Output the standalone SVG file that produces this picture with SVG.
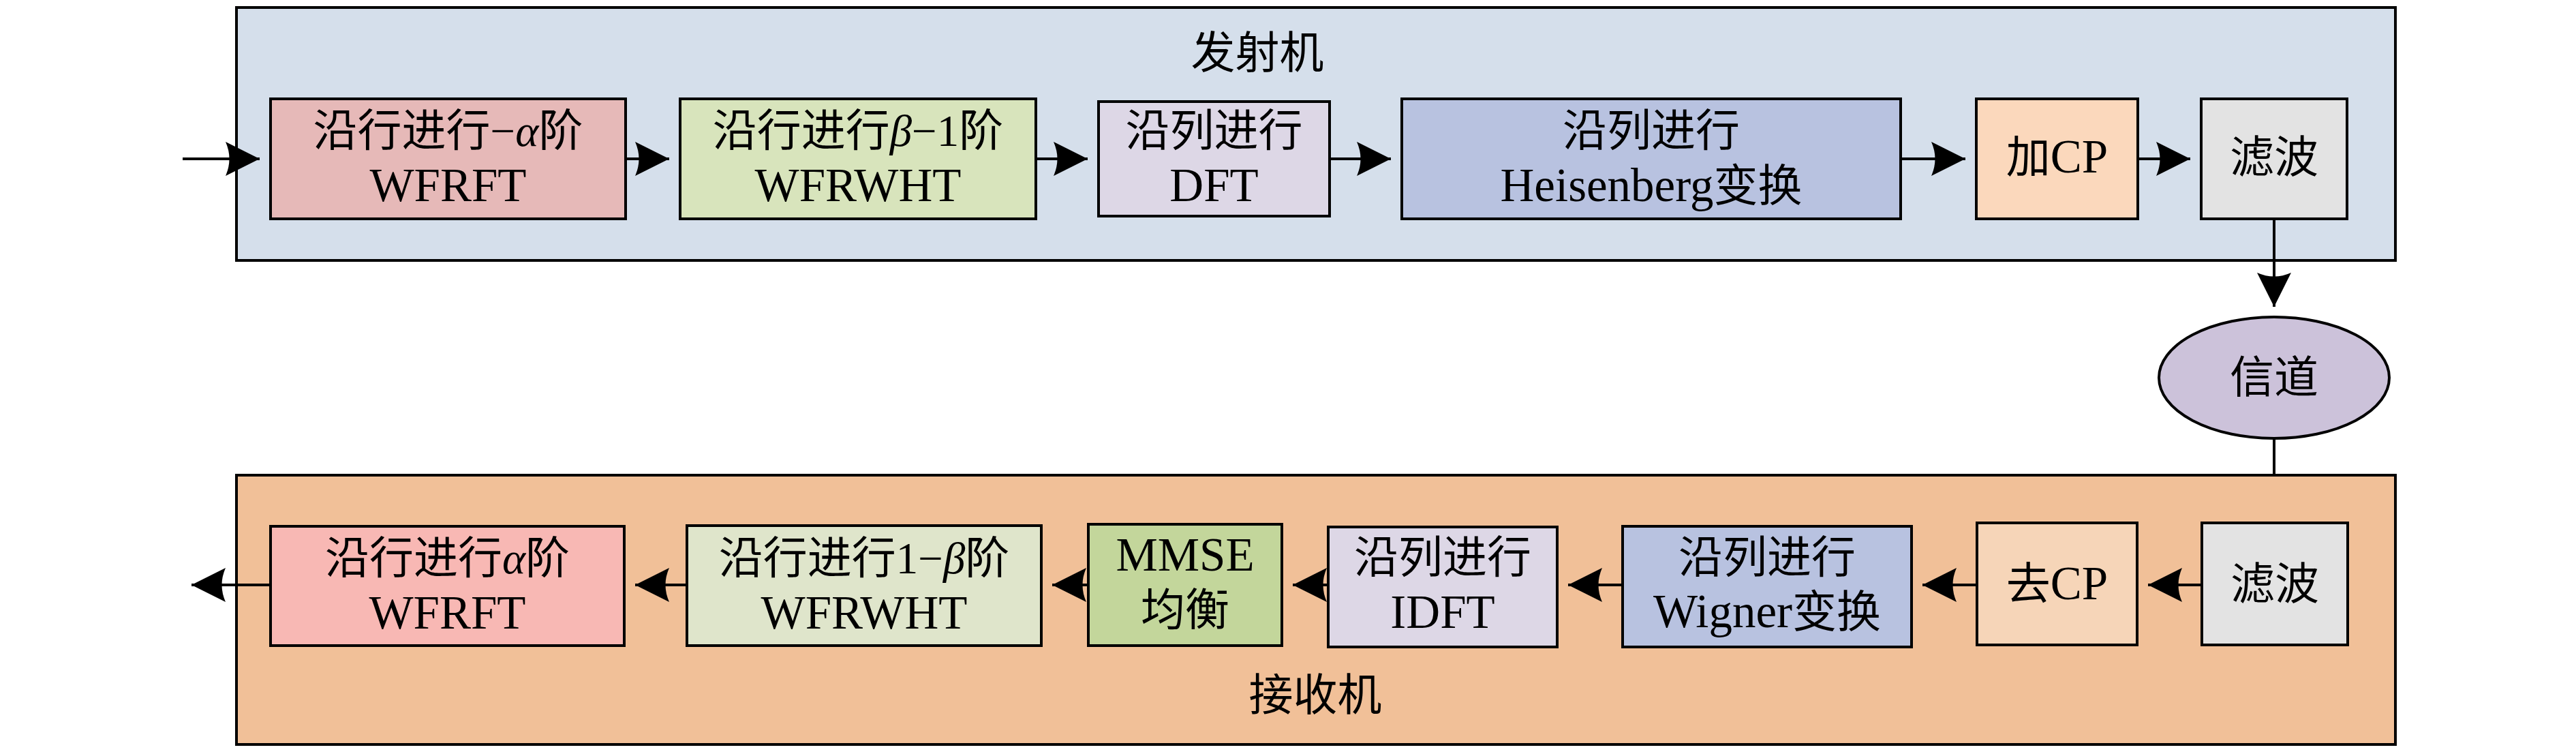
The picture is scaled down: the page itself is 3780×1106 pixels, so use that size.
<svg xmlns="http://www.w3.org/2000/svg" width="3780" height="1106" viewBox="0 0 3780 1106">
<style>
text{font-family:"Liberation Serif","Noto Sans CJK SC",serif;font-size:65px;fill:#000;text-anchor:middle}
.i{font-style:italic}
.l{font-size:69px}
.box{stroke:#000;stroke-width:4}
.cont{stroke:#000;stroke-width:4}
.ln{stroke:#000;stroke-width:4;fill:none}
</style>
<defs>
<marker id="ah" viewBox="-52 -27 54 54" refX="0" refY="0" markerWidth="54" markerHeight="54" markerUnits="userSpaceOnUse" orient="auto">
<path d="M0,0 L-50,-25 Q-39,0 -50,25 Z" fill="#000"/>
</marker>
</defs>
<rect width="3780" height="1106" fill="#fff"/>
<g id="transmitter">
<rect class="cont" x="347" y="11" width="3168" height="371" fill="#d5dfeb"/>
<text x="1845" y="100">发射机</text>
</g>
<g id="receiver">
<rect class="cont" x="347" y="697" width="3168" height="395" fill="#f1c098"/>
<text x="1930" y="1042">接收机</text>
</g>
<g id="connectors">
<path class="ln" d="M268,233 H381" marker-end="url(#ah)"/>
<path class="ln" d="M918,233 H982" marker-end="url(#ah)"/>
<path class="ln" d="M1520,233 H1596" marker-end="url(#ah)"/>
<path class="ln" d="M1951,233 H2041" marker-end="url(#ah)"/>
<path class="ln" d="M2789,233 H2884" marker-end="url(#ah)"/>
<path class="ln" d="M3137,233 H3214" marker-end="url(#ah)"/>
<path class="ln" d="M3337,321 V450" marker-end="url(#ah)"/>
<path class="ln" d="M3337,643 V697"/>
<path class="ln" d="M3230,858 H3152" marker-end="url(#ah)"/>
<path class="ln" d="M2900,858 H2821" marker-end="url(#ah)"/>
<path class="ln" d="M2381,858 H2301" marker-end="url(#ah)"/>
<path class="ln" d="M1949,858 H1897" marker-end="url(#ah)"/>
<path class="ln" d="M1597,858 H1544" marker-end="url(#ah)"/>
<path class="ln" d="M1008,858 H932" marker-end="url(#ah)"/>
<path class="ln" d="M397,858 H281" marker-end="url(#ah)"/>
</g>
<g id="tx1">
<rect class="box" x="397" y="145" width="521" height="176" fill="#e6b9b8"/>
<text x="657.5" y="214">沿行进行−<tspan class="i">α</tspan>阶</text>
<text class="l" x="657.5" y="295">WFRFT</text>
</g>
<g id="tx2">
<rect class="box" x="998" y="145" width="522" height="176" fill="#d8e4bc"/>
<text x="1259" y="214">沿行进行<tspan class="i">β</tspan>−1阶</text>
<text class="l" x="1259" y="295">WFRWHT</text>
</g>
<g id="tx3">
<rect class="box" x="1612" y="149" width="339" height="168" fill="#ddd7e6"/>
<text x="1781.5" y="214">沿列进行</text>
<text class="l" x="1781.5" y="295">DFT</text>
</g>
<g id="tx4">
<rect class="box" x="2057" y="145" width="732" height="176" fill="#b8c2e0"/>
<text x="2423" y="214">沿列进行</text>
<text x="2423" y="295"><tspan class="l">Heisenberg</tspan>变换</text>
</g>
<g id="tx5">
<rect class="box" x="2900" y="145" width="237" height="176" fill="#fbd8bc"/>
<text x="3018.5" y="253">加<tspan class="l">CP</tspan></text>
</g>
<g id="tx6">
<rect class="box" x="3230" y="145" width="214" height="176" fill="#e3e3e3"/>
<text x="3337" y="253">滤波</text>
</g>
<g id="channel">
<ellipse class="box" cx="3337" cy="554" rx="169" ry="89" fill="#ccc2da"/>
<text x="3337" y="576">信道</text>
</g>
<g id="rx1">
<rect class="box" x="3231" y="767" width="214" height="179" fill="#e3e3e3"/>
<text x="3338" y="879">滤波</text>
</g>
<g id="rx2">
<rect class="box" x="2901" y="767" width="235" height="179" fill="#f6d5b8"/>
<text x="3018.5" y="879">去<tspan class="l">CP</tspan></text>
</g>
<g id="rx3">
<rect class="box" x="2381" y="772" width="424" height="177" fill="#b8c2e0"/>
<text x="2593" y="840">沿列进行</text>
<text x="2593" y="920"><tspan class="l">Wigner</tspan>变换</text>
</g>
<g id="rx4">
<rect class="box" x="1949" y="773" width="336" height="176" fill="#ddd7e6"/>
<text x="2117" y="840">沿列进行</text>
<text class="l" x="2117" y="921">IDFT</text>
</g>
<g id="rx5">
<rect class="box" x="1597" y="769" width="284" height="178" fill="#c3d69b"/>
<text class="l" x="1739" y="837">MMSE</text>
<text x="1739" y="917">均衡</text>
</g>
<g id="rx6">
<rect class="box" x="1008" y="771" width="520" height="176" fill="#dfe5cb"/>
<text x="1268" y="841">沿行进行1−<tspan class="i">β</tspan>阶</text>
<text class="l" x="1268" y="922">WFRWHT</text>
</g>
<g id="rx7">
<rect class="box" x="397" y="772" width="519" height="175" fill="#f8b8b4"/>
<text x="656.5" y="841">沿行进行<tspan class="i">α</tspan>阶</text>
<text class="l" x="656.5" y="922">WFRFT</text>
</g>
</svg>
